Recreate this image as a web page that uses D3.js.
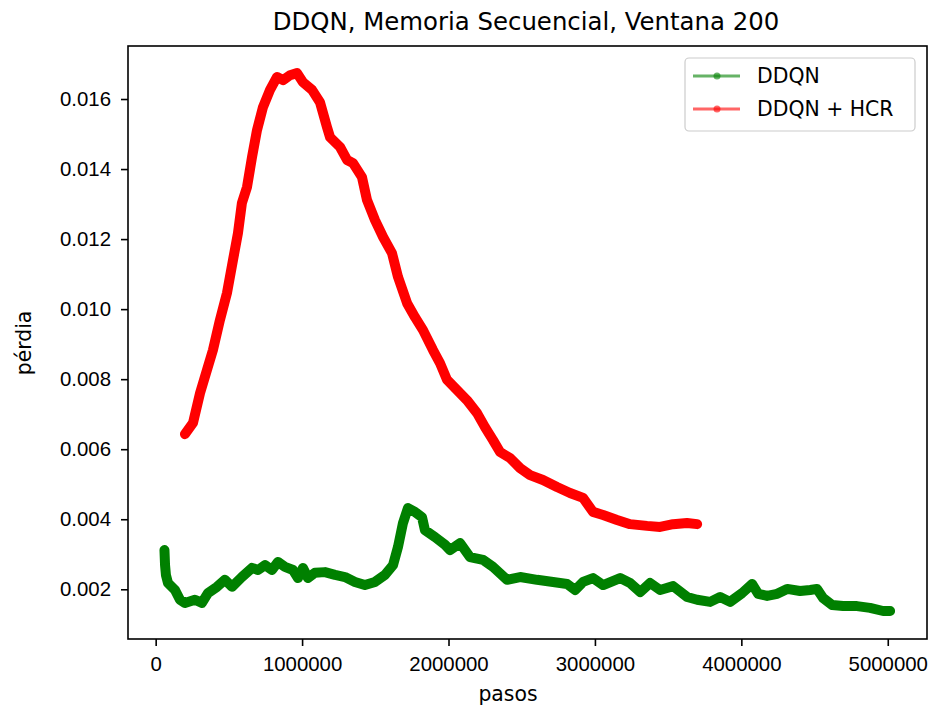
<!DOCTYPE html>
<html>
<head>
<meta charset="utf-8">
<script src="https://cdn.jsdelivr.net/npm/d3@7"></script>
<style>
    body { margin: 0; background: #fff; }
    svg { font-family: "DejaVu Sans", sans-serif; }
</style>
</head>
<body>
<div id="chart"></div>
<script>
// pasos / pérdida
const ddqnSteps = [60000, 64000, 70000, 84000, 132000, 166000, 200000, 268000, 316000, 357000,
    419000, 473000, 521000, 589000, 658000, 699000, 747000, 794000, 835000, 883000,
    938000, 972000, 1006000, 1040000, 1088000, 1156000, 1225000, 1293000, 1361000, 1429000,
    1498000, 1566000, 1621000, 1655000, 1689000, 1723000, 1771000, 1819000, 1839000, 1908000,
    1976000, 2010000, 2079000, 2147000, 2236000, 2304000, 2400000, 2489000, 2605000, 2714000,
    2810000, 2865000, 2919000, 2987000, 3056000, 3172000, 3240000, 3309000, 3377000, 3445000,
    3534000, 3630000, 3698000, 3787000, 3855000, 3923000, 4005000, 4074000, 4115000, 4176000,
    4245000, 4313000, 4401000, 4470000, 4517000, 4558000, 4620000, 4695000, 4790000, 4879000,
    4968000, 5016000];
const ddqnLoss = [0.00312, 0.00269, 0.00241, 0.00218, 0.00198, 0.00170, 0.00161, 0.00170, 0.00161, 0.00189,
    0.00207, 0.00227, 0.00207, 0.00235, 0.00261, 0.00255, 0.00269, 0.00255, 0.00278, 0.00264,
    0.00255, 0.00232, 0.00261, 0.00232, 0.00247, 0.00249, 0.00241, 0.00235, 0.00221, 0.00212,
    0.00221, 0.00241, 0.00269, 0.00321, 0.00389, 0.00432, 0.00421, 0.00406, 0.00369, 0.00349,
    0.00327, 0.00312, 0.00332, 0.00292, 0.00284, 0.00264, 0.00227, 0.00235, 0.00227, 0.00221,
    0.00215, 0.00198, 0.00221, 0.00232, 0.00212, 0.00232, 0.00218, 0.00192, 0.00218, 0.00198,
    0.00209, 0.00178, 0.00170, 0.00164, 0.00178, 0.00164, 0.00189, 0.00215, 0.00187, 0.00181,
    0.00187, 0.00201, 0.00195, 0.00198, 0.00201, 0.00175, 0.00155, 0.00152, 0.00152, 0.00147,
    0.00138, 0.00138];

const hcrSteps = [200000, 255000, 303000, 350000, 391000, 439000, 487000, 528000, 562000, 589000,
    624000, 658000, 692000, 733000, 781000, 829000, 870000, 917000, 965000, 1006000,
    1068000, 1122000, 1170000, 1191000, 1259000, 1307000, 1348000, 1409000, 1443000, 1498000,
    1553000, 1614000, 1655000, 1717000, 1771000, 1826000, 1894000, 1942000, 1990000, 2058000,
    2126000, 2195000, 2249000, 2304000, 2352000, 2420000, 2489000, 2557000, 2645000, 2741000,
    2830000, 2919000, 2987000, 3056000, 3151000, 3240000, 3356000, 3445000, 3534000, 3629000,
    3698000];
const hcrLoss = [0.00643, 0.00675, 0.00760, 0.00826, 0.00883, 0.00969, 0.01046, 0.01140, 0.01217, 0.01303,
    0.01349, 0.01434, 0.01511, 0.01577, 0.01626, 0.01663, 0.01654, 0.01668, 0.01674, 0.01648,
    0.01626, 0.01591, 0.01520, 0.01491, 0.01463, 0.01426, 0.01417, 0.01377, 0.01312, 0.01254,
    0.01206, 0.01160, 0.01092, 0.01017, 0.00977, 0.00940, 0.00883, 0.00846, 0.00798, 0.00769,
    0.00740, 0.00703, 0.00663, 0.00626, 0.00592, 0.00575, 0.00546, 0.00526, 0.00512, 0.00492,
    0.00475, 0.00461, 0.00421, 0.00412, 0.00398, 0.00386, 0.00381, 0.00378, 0.00386, 0.00389,
    0.00386];

const xTicks = [0, 1000000, 2000000, 3000000, 4000000, 5000000];
const yTicks = [0.002, 0.004, 0.006, 0.008, 0.010, 0.012, 0.014, 0.016];
const xLim = [-189000, 5268000];
const yLim = [0.00058, 0.017514];

const seriesNames = ["DDQN", "DDQN + HCR"];
const seriesColors = ["#008000", "#ff0000"];

const width = 938, height = 711;
const margin = { top: 46, right: 11, bottom: 72, left: 128 };

const svg = d3.select("#chart")
    .append("svg")
    .attr("width", width)
    .attr("height", height);

const x = d3.scaleLinear().domain(xLim).range([margin.left, width - margin.right]);
const y = d3.scaleLinear().domain(yLim).range([height - margin.bottom, margin.top]);

const line = d3.line()
    .x(d => x(d[0]))
    .y(d => y(d[1]));

const series = [
    d3.zip(ddqnSteps, ddqnLoss),
    d3.zip(hcrSteps, hcrLoss)
];

svg.append("g")
    .selectAll("path")
    .data(series)
    .join("path")
    .attr("fill", "none")
    .attr("stroke", (d, i) => seriesColors[i])
    .attr("stroke-width", 10)
    .attr("stroke-linejoin", "round")
    .attr("stroke-linecap", "round")
    .attr("d", line);

// ejes
const xAxis = svg.append("g")
    .attr("transform", `translate(0,${height - margin.bottom})`)
    .call(d3.axisBottom(x).tickValues(xTicks).tickFormat(d3.format("d")).tickSize(7).tickPadding(11));

const yAxis = svg.append("g")
    .attr("transform", `translate(${margin.left},0)`)
    .call(d3.axisLeft(y).tickValues(yTicks).tickFormat(d3.format(".3f")).tickSize(7).tickPadding(10));

[xAxis, yAxis].forEach(g => {
    g.select(".domain").remove();
    g.selectAll(".tick line").attr("stroke", "#000").attr("stroke-width", 1.6);
    g.selectAll(".tick text").attr("fill", "#000").style("font-size", "20.4px");
});

// marco
svg.append("rect")
    .attr("x", margin.left)
    .attr("y", margin.top)
    .attr("width", width - margin.left - margin.right)
    .attr("height", height - margin.top - margin.bottom)
    .attr("fill", "none")
    .attr("stroke", "#000")
    .attr("stroke-width", 1.6);

svg.append("text")
    .attr("x", 526)
    .attr("y", 30)
    .attr("text-anchor", "middle")
    .style("font-size", "24.4px")
    .text("DDQN, Memoria Secuencial, Ventana 200");

svg.append("text")
    .attr("x", 508)
    .attr("y", 701)
    .attr("text-anchor", "middle")
    .style("font-size", "20.4px")
    .text("pasos");

svg.append("text")
    .attr("transform", "translate(31,343) rotate(-90)")
    .attr("text-anchor", "middle")
    .style("font-size", "20.4px")
    .text("pérdia");

// leyenda
const legend = svg.append("g");

legend.append("rect")
    .attr("x", 685)
    .attr("y", 58)
    .attr("width", 230)
    .attr("height", 73)
    .attr("rx", 4)
    .attr("fill", "#fff")
    .attr("fill-opacity", 0.8)
    .attr("stroke", "#cccccc")
    .attr("stroke-width", 1.2);

const items = legend.selectAll(".item")
    .data(seriesNames)
    .join("g")
    .attr("class", "item")
    .attr("transform", (d, i) => `translate(0,${76 + i * 33})`);

items.append("line")
    .attr("x1", 693)
    .attr("x2", 740)
    .attr("stroke", (d, i) => seriesColors[i === 0 ? 0 : 1])
    .attr("stroke-opacity", 0.6)
    .attr("stroke-width", 3);

items.append("circle")
    .attr("cx", 717)
    .attr("r", 3.5)
    .attr("fill", (d, i) => seriesColors[i])
    .attr("fill-opacity", 0.6);

items.append("text")
    .attr("x", 757)
    .attr("dy", "0.35em")
    .style("font-size", "20.4px")
    .text(d => d);
</script>
</body>
</html>
